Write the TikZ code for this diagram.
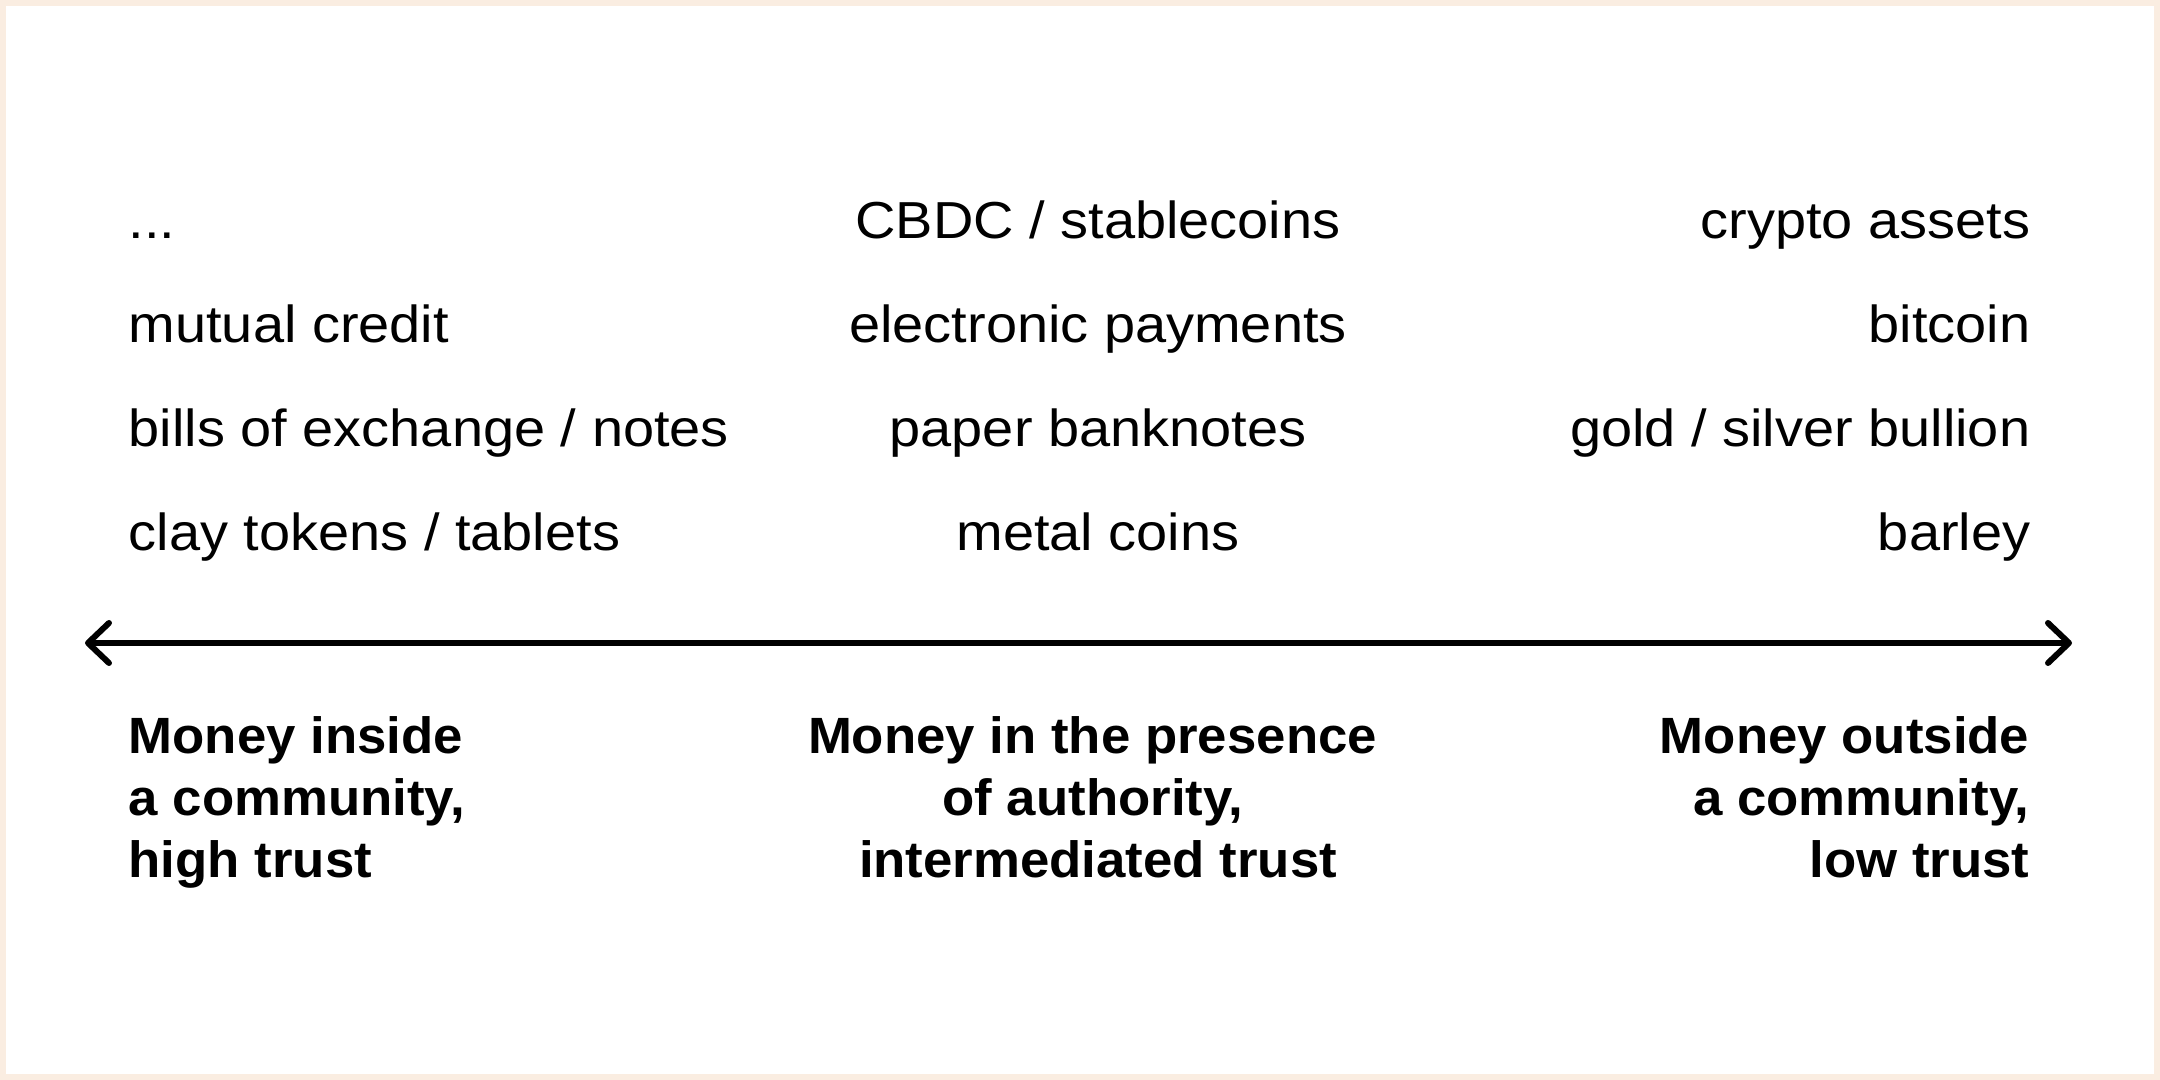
\documentclass[tikz,border=0pt]{standalone}
\usepackage{fontspec}
\usetikzlibrary{arrows.meta}
\newfontfamily\regfont[FakeStretch=1.075]{Liberation Sans}
\newfontfamily\boldfont[FakeStretch=1.035]{Liberation Sans Bold}
\definecolor{beige}{RGB}{250,237,225}
\begin{document}
\begin{tikzpicture}[x=0.01cm,y=-0.01cm,
  item/.style={inner sep=0pt, font=\regfont\fontsize{14.8pt}{17pt}\selectfont},
  lab/.style={inner sep=0pt, font=\boldfont\fontsize{14.5pt}{17.6pt}\selectfont},
  axis/.style={line width=1.7pt, line cap=round,
    {Straight Barb[length=0.21cm,width=0.4cm,line width=1.7pt,round]}-{Straight Barb[length=0.21cm,width=0.4cm,line width=1.7pt,round]}}]
\useasboundingbox (0,0) rectangle (2160,1080);
\fill[beige] (0,0) rectangle (2160,1080);
\fill[white] (6,6) rectangle (2154,1074);
% left column
\node[item, anchor=base west] (l1) at (128,238.5) {...};
\node[item, anchor=base west] (l2) at (128,342.5) {mutual credit};
\node[item, anchor=base west] (l3) at (128,446.5) {bills of exchange / notes};
\node[item, anchor=base west] (l4) at (128,550.5) {clay tokens / tablets};
% centre column
\node[item, anchor=base] (c1) at (1098,238.5) {CBDC / stablecoins};
\node[item, anchor=base] (c2) at (1098,342.5) {electronic payments};
\node[item, anchor=base] (c3) at (1098,446.5) {paper banknotes};
\node[item, anchor=base] (c4) at (1098,550.5) {metal coins};
% right column
\node[item, anchor=base east] (r1) at (2031,238.5) {crypto assets};
\node[item, anchor=base east] (r2) at (2031,342.5) {bitcoin};
\node[item, anchor=base east] (r3) at (2031,446.5) {gold / silver bullion};
\node[item, anchor=base east] (r4) at (2031,550.5) {barley};
% axis
\coordinate (axL) at (85,643);
\coordinate (axR) at (2072,643);
\draw[axis] (axL) -- (axR);
% labels
\node[lab, anchor=base west] (la1) at (128,754) {Money inside};
\node[lab, anchor=base west] (la2) at (128,816) {a community,};
\node[lab, anchor=base west] (la3) at (128,878) {high trust};
\node[lab, anchor=base] (ma1) at (1092.5,754) {Money in the presence};
\node[lab, anchor=base] (ma2) at (1093,816) {of authority,};
\node[lab, anchor=base] (ma3) at (1098,878) {intermediated trust};
\node[lab, anchor=base east] (ra1) at (2030,754) {Money outside};
\node[lab, anchor=base east] (ra2) at (2030,816) {a community,};
\node[lab, anchor=base east] (ra3) at (2030,878) {low trust};
\end{tikzpicture}
\end{document}
